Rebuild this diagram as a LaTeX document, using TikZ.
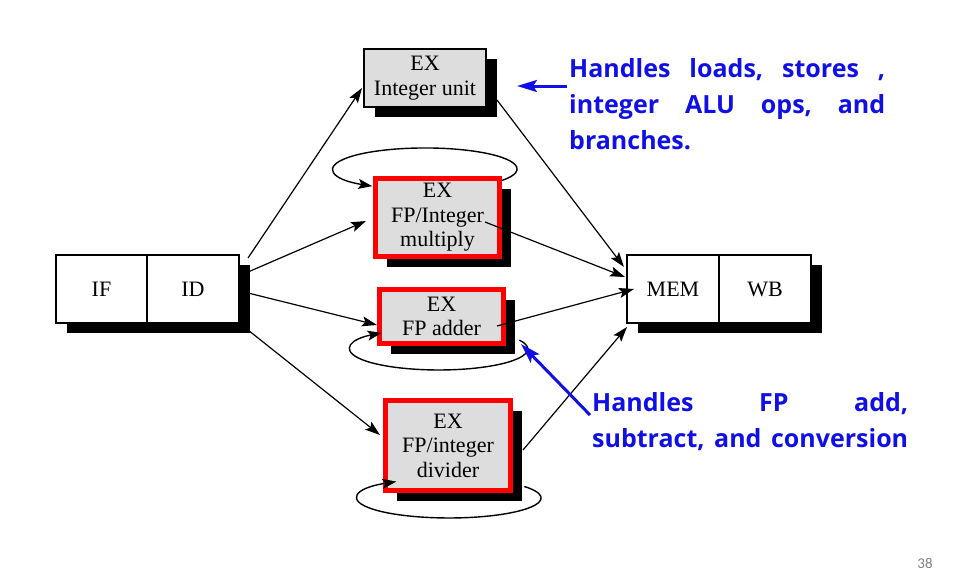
\documentclass[tikz,border=0pt]{standalone}
\usepackage{fontspec}
\setmainfont{Liberation Serif}
\newfontfamily\notefont{Open Sans}
\newfontfamily\pagefont{Carlito}
\usetikzlibrary{arrows.meta,shadows}
\definecolor{exgray}{RGB}{221,221,221}
\definecolor{noteblue}{RGB}{16,16,230}
\newcommand{\jline}[1]{\makebox[316pt]{#1}}

\begin{document}
\begin{tikzpicture}[x=1pt,y=1pt,
  every node/.style={inner sep=0pt},
  shade box/.style={general shadow={fill=black, shadow xshift=11pt, shadow yshift=-10pt}},
  stage/.style={draw, line width=2pt, fill=white, minimum height=68pt,
    font=\fontsize{22}{24}\selectfont, shade box},
  exbox/.style={draw, line width=2pt, fill=exgray, align=center,
    font=\fontsize{22}{24.5}\selectfont, shade box},
  fpbox/.style={exbox, draw=red, line width=5pt},
  flow/.style={line width=1.2pt, -{Stealth[length=15pt,width=10pt,inset=3pt]}},
  loop/.style={line width=1.4pt, -{Stealth[length=14pt,width=10pt,inset=3pt]}},
  note/.style={text=noteblue, align=left, text width=316pt,
    font=\notefont\bfseries\fontsize{25}{36}\selectfont},
  notearrow/.style={draw=noteblue, line width=3pt,
    -{Stealth[length=20pt,width=12pt,inset=4pt]}}]
\useasboundingbox (0,0) rectangle (969,-573);

\node[stage, minimum width=91pt] (IF) at (101.5,-289) {IF};
\node[stage, minimum width=92pt] (ID) at (193,-289) {ID};
\node[stage, minimum width=92pt] (MEM) at (673,-289) {MEM};
\node[stage, minimum width=92pt] (WB) at (765,-289) {WB};

\node[exbox, minimum width=122pt, minimum height=58pt] (intu) at (425,-78) {EX\\Integer unit};
\node[fpbox, minimum width=124pt, minimum height=78pt] (mult) at (437.5,-217.5) {EX\\FP/Integer\\multiply};
\node[fpbox, minimum width=124pt, minimum height=54pt] (fpadd) at (441.5,-316.5) {EX\\FP adder};
\node[fpbox, minimum width=125pt, minimum height=90pt] (fpdiv) at (448,-445.5) {EX\\FP/integer\\divider};

\draw[flow] ([shift={(8,31)}]ID.east) -- ([shift={(-1,-10)}]intu.west);
\draw[flow] ([shift={(8,17)}]ID.east) -- ([shift={(-7,-3.5)}]mult.west);
\draw[flow] ([shift={(8,-4)}]ID.east) -- ([shift={(0,-8.5)}]fpadd.west);
\draw[flow] ([shift={(8,-41)}]ID.east) -- ([shift={(-3,10.5)}]fpdiv.west);

\draw[flow] ([shift={(10,-22)}]intu.east) -- ([shift={(-2,22)}]MEM.west);
\draw[flow] ([shift={(-17,-4.5)}]mult.east) -- ([shift={(-1,12)}]MEM.west);
\draw[flow] ([shift={(-9,-9.5)}]fpadd.east) -- ([shift={(8,0)}]MEM.west);
\draw[flow] ([shift={(10,-4.5)}]fpdiv.east) -- ([shift={(1,-38)}]MEM.west);

\draw[loop] ([shift={(64.7,37.1)}]mult.center) arc[start angle=-33, end angle=235, x radius=92, y radius=21];
\draw[loop] ([shift={(77.9,-23.6)}]fpadd.center) arc[start angle=25, end angle=-230, x radius=89, y radius=21];
\draw[loop] ([shift={(76.4,-41)}]fpdiv.center) arc[start angle=35, end angle=-235, x radius=92, y radius=20];

\node[note, anchor=north west] (note1) at (569,-58)
  {\jline{Handles\hfill loads,\hfill stores\hfill ,}\\\jline{integer\hfill ALU\hfill ops,\hfill and}\\branches.};
\node[note, anchor=north west] (note2) at (592,-392)
  {\jline{Handles\hfill FP\hfill add,}\\\jline{subtract,\hfill and\hfill conversion}};
\draw[notearrow] ([shift={(-2,-28)}]note1.north west) -- ([shift={(30,-8)}]intu.east);
\draw[notearrow] ([shift={(-2,-23)}]note2.north west) -- ([shift={(15,-27.5)}]fpadd.east);

\node[text=gray, font=\pagefont\fontsize{15}{17}\selectfont] (pgno) at (925,-563) {38};
\end{tikzpicture}
\end{document}
